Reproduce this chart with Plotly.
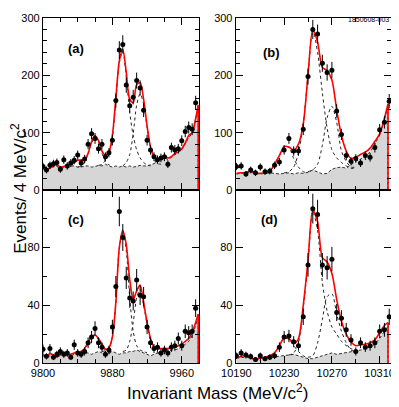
import numpy as np
import plotly.graph_objects as go

# 4 MeV bins, chi_b(1P) region (left) and chi_b(2P) region (right)
xa = np.arange(9800, 9980, 4)
xa_end = 9979
xb = np.arange(10190, 10322, 4)
xb_end = 10317

# panel (a)
a_data = [41, 35, 43, 46, 48, 36, 53, 42, 47, 52, 61, 47, 54, 80, 98, 90, 72, 80, 58, 65, 87, 156, 244, 254,
          183, 147, 162, 191, 178, 139, 87, 70, 58, 53, 56, 58, 45, 74, 70, 72, 86, 102, 109, 106, 152]
a_fit = [42, 37, 38, 43, 44, 40, 41, 43, 45, 48, 52, 52, 53, 64, 84, 95, 86, 68, 61, 66, 95, 160, 225, 245,
         205, 158, 152, 184, 187, 158, 112, 75, 58, 54, 56, 60, 56, 58, 64, 66, 72, 82, 95, 100, 125, 148]
a_bkg = [40, 36, 38, 41, 41, 38, 39, 41, 42, 42, 40, 40, 42, 42, 40, 41, 43, 42, 45, 42, 40, 42, 40, 42,
         40, 42, 40, 41, 43, 42, 42, 44, 46, 50, 54, 57, 53, 57, 62, 65, 70, 80, 92, 98, 122, 146]
a_p0 = (9840, [40, 42, 48, 63, 82, 92, 84, 64, 50, 44, 41])
a_p1 = (9864, [43, 45, 52, 63, 92, 155, 222, 242, 198, 135, 95, 70, 56, 48, 44, 42])
a_p2 = (9892, [42, 48, 62, 98, 148, 168, 150, 110, 73, 52, 46, 45])

# panel (b)
b_data = [41, 42, 28, 35, 30, 40, 32, 33, 43, 49, 70, 90, 68, 68, 106, 198, 280, 272, 221, 205, 209, 138,
          97, 60, 50, 55, 47, 60, 57, 74, 105, 118, 155]
b_fit = [29, 30, 31, 33, 30, 29, 30, 33, 45, 60, 76, 75, 69, 80, 115, 201, 280, 258, 214, 208, 192, 140,
         95, 68, 55, 57, 62, 66, 73, 85, 98, 125, 150]
b_bkg = [28, 29, 30, 31, 29, 28, 29, 30, 29, 28, 29, 30, 28, 30, 29, 31, 35, 31, 28, 29, 36, 39, 40, 38,
         44, 50, 54, 60, 66, 80, 96, 122, 148]
b_p0 = (10214, [30, 33, 44, 60, 76, 74, 55, 40, 32, 30])
b_p1 = (10230, [30, 32, 40, 65, 115, 200, 280, 240, 170, 108, 70, 56, 48, 42, 38, 38])
b_p2 = (10250, [32, 35, 45, 78, 126, 146, 118, 68, 50, 40, 40])

# panel (c)
c_data = [9.6, 4.6, 10, 4, 6, 8, 6, 7, 4, 12.6, 7, 6, 8, 14, 18, 24, 14, 11, 6, 9, 25, 53, 105, 87, 59,
          45, 43, 57.6, 47, 46, 25, 14, 10, 11, 7, 9, 7, 11, 12, 17, 12, 22, 21, 22, 38]
c_fit = [6, 4.5, 6.5, 5.5, 4.5, 6, 7, 6, 6, 7, 7.5, 8, 10, 14.5, 18.5, 19.4, 17, 13, 9.5, 10.5, 18, 42, 80,
         92, 82, 58, 44, 50, 54, 42, 28, 17, 11, 10, 10, 10, 10, 11, 11, 12, 13, 15, 17, 21, 28, 34]
c_bkg = [5, 4, 5, 5, 4, 5, 6, 5, 5, 6, 6, 6, 7, 7, 6, 7, 8, 7, 6, 7, 8, 7, 6, 7, 7, 8, 8, 9, 8, 7, 6, 5, 6,
         7, 8, 8, 8, 9, 9, 10, 11, 13, 15, 19, 26, 33]
c_p0 = (9840, [6, 7, 9, 13.5, 18, 19, 16, 12, 9, 7, 7])
c_p1 = (9868, [8, 8.5, 10, 18, 42, 80, 91, 78, 45, 22, 12, 9, 8, 7])
c_p2 = (9892, [8, 9, 15, 28, 45, 51, 40, 27, 15, 10, 7, 7])

# panel (d)
d_data = [5, 7, 5.5, 4.5, 2.5, 5, 3, 4, 5, 11, 18, 18.7, 14.8, 12, 32, 68, 107, 103, 68, 66, 72, 35, 31,
          23, 16, 8, 14, 11, 12, 14, 22, 23, 32]
d_fit = [3.5, 4.5, 5.5, 3.5, 2.5, 3.5, 4, 5, 7, 12, 17.5, 17, 13.5, 17, 40, 71, 106, 98, 73, 70, 62, 44,
         29, 20, 14.5, 12, 12.5, 13, 14, 16, 21, 26, 28]
d_bkg = [3.5, 4, 4, 3.5, 2.5, 3, 3.5, 4, 4, 4.5, 5, 5.5, 6, 5, 4, 3, 3, 4, 5, 6, 7, 6, 6.5, 7, 7.5, 8, 9,
         10, 11, 13, 17, 22, 26]
d_p0 = (10214, [4, 5, 7, 12, 17, 16.5, 12, 8, 5, 3.5])
d_p1 = (10234, [5.5, 7, 14, 38, 70, 105, 92, 56, 36, 25, 20, 15, 12, 10, 9])
d_p2 = (10250, [4, 5, 14, 30, 46, 48, 34, 22, 14, 9, 8])

panels = [
    ("x", "y", xa, xa_end, a_data, a_fit, a_bkg, [a_p0, a_p1, a_p2]),
    ("x2", "y2", xb, xb_end, b_data, b_fit, b_bkg, [b_p0, b_p1, b_p2]),
    ("x3", "y3", xa, xa_end, c_data, c_fit, c_bkg, [c_p0, c_p1, c_p2]),
    ("x4", "y4", xb, xb_end, d_data, d_fit, d_bkg, [d_p0, d_p1, d_p2]),
]

fig = go.Figure()
for xax, yax, xbin, xend, data, fit, bkg, peaks in panels:
    xf = list(xbin[:len(fit) - 1]) + [xend]
    # background (grey filled, dashed outline)
    fig.add_trace(go.Scatter(x=xf + [xend], y=bkg + [0], mode="lines", fill="tozeroy",
                             fillcolor="#d6d6d6", line=dict(color="#333333", width=1, dash="3px,2px"),
                             xaxis=xax, yaxis=yax))
    # single peak components
    for x0, vals in peaks:
        fig.add_trace(go.Scatter(x=np.arange(x0, x0 + 4 * len(vals), 4), y=vals, mode="lines",
                                 line=dict(color="#222222", width=1, dash="dot", shape="spline", smoothing=0.8),
                                 xaxis=xax, yaxis=yax))
    # total fit
    fig.add_trace(go.Scatter(x=xf, y=fit, mode="lines",
                             line=dict(color="#ff0000", width=1.6, shape="spline", smoothing=0.8),
                             xaxis=xax, yaxis=yax))
    fig.add_trace(go.Scatter(x=[xend, xend], y=[fit[-1], 0], mode="lines",
                             line=dict(color="#ff0000", width=1.6), xaxis=xax, yaxis=yax))
    # data
    fig.add_trace(go.Scatter(x=xbin, y=data, mode="markers",
                             marker=dict(color="black", size=5),
                             error_y=dict(type="data", array=np.sqrt(data), color="black", thickness=1, width=0),
                             xaxis=xax, yaxis=yax))

ax = dict(showline=True, linecolor="black", linewidth=1.2, mirror="ticks", ticks="inside", ticklen=7,
          tickwidth=1, tickcolor="black", showgrid=False, zeroline=False, tickformat="d",
          ticklabeloverflow="allow", tickfont=dict(size=11, color="black"))
xl = dict(range=[9800, 9980], tick0=9800, dtick=80,
          minor=dict(tick0=9800, dtick=20, ticks="inside", ticklen=4, tickcolor="black"), **ax)
xr = dict(range=[10189.5, 10319.5], tick0=10190, dtick=40,
          minor=dict(tick0=10190, dtick=20, ticks="inside", ticklen=4, tickcolor="black"), **ax)
yt = dict(range=[0, 300], dtick=100,
          minor=dict(dtick=20, ticks="inside", ticklen=4, tickcolor="black"), **ax)
yb = dict(range=[0, 119.9], dtick=40,
          minor=dict(dtick=20, ticks="inside", ticklen=4, tickcolor="black"), **ax)

xdl, xdr = [0, 0.4486], [0.554, 1]
ydt, ydb = [0.5014, 1], [0, 0.5014]

# page body adds an 8px offset, so the figure is laid out 8px up/left
fig.update_layout(
    width=391, height=399,
    margin=dict(l=35, r=6, t=4, b=44),
    paper_bgcolor="white", plot_bgcolor="white",
    showlegend=False, hovermode=False,
    font=dict(family="Liberation Sans, Arial, sans-serif", color="black"),
    xaxis=dict(domain=xdl, anchor="y", showticklabels=False, **xl),
    xaxis2=dict(domain=xdr, anchor="y2", showticklabels=False, **xr),
    xaxis3=dict(domain=xdl, anchor="y3", **xl),
    xaxis4=dict(domain=xdr, anchor="y4", **xr),
    yaxis=dict(domain=ydt, anchor="x", **yt),
    yaxis2=dict(domain=ydt, anchor="x2", **yt),
    yaxis3=dict(domain=ydb, anchor="x3", **yb),
    yaxis4=dict(domain=ydb, anchor="x4", **yb),
)

labels = [("(a)", 0.094, 0.912), ("(b)", 0.656, 0.900), ("(c)", 0.094, 0.416), ("(d)", 0.651, 0.416)]
for txt, px, py in labels:
    fig.add_annotation(text="<b>" + txt + "</b>", x=px, y=py, xref="paper", yref="paper",
                       xanchor="center", yanchor="middle", showarrow=False, font=dict(size=13))

fig.add_annotation(text="Events/ 4 MeV/c<sup>2</sup>", x=-0.07, y=0.507, xref="paper", yref="paper",
                   xanchor="center", yanchor="middle", textangle=-90, showarrow=False, font=dict(size=17))
fig.add_annotation(text="Invariant Mass (MeV/c<sup>2</sup>)", x=0.5, y=-0.083, xref="paper", yref="paper",
                   xanchor="center", yanchor="middle", showarrow=False, font=dict(size=17))
fig.add_annotation(text="1850608-003", x=1.0, y=1.0114, xref="paper", yref="paper", xanchor="right",
                   yanchor="top", showarrow=False, font=dict(size=7))

fig.write_html("out.html")
